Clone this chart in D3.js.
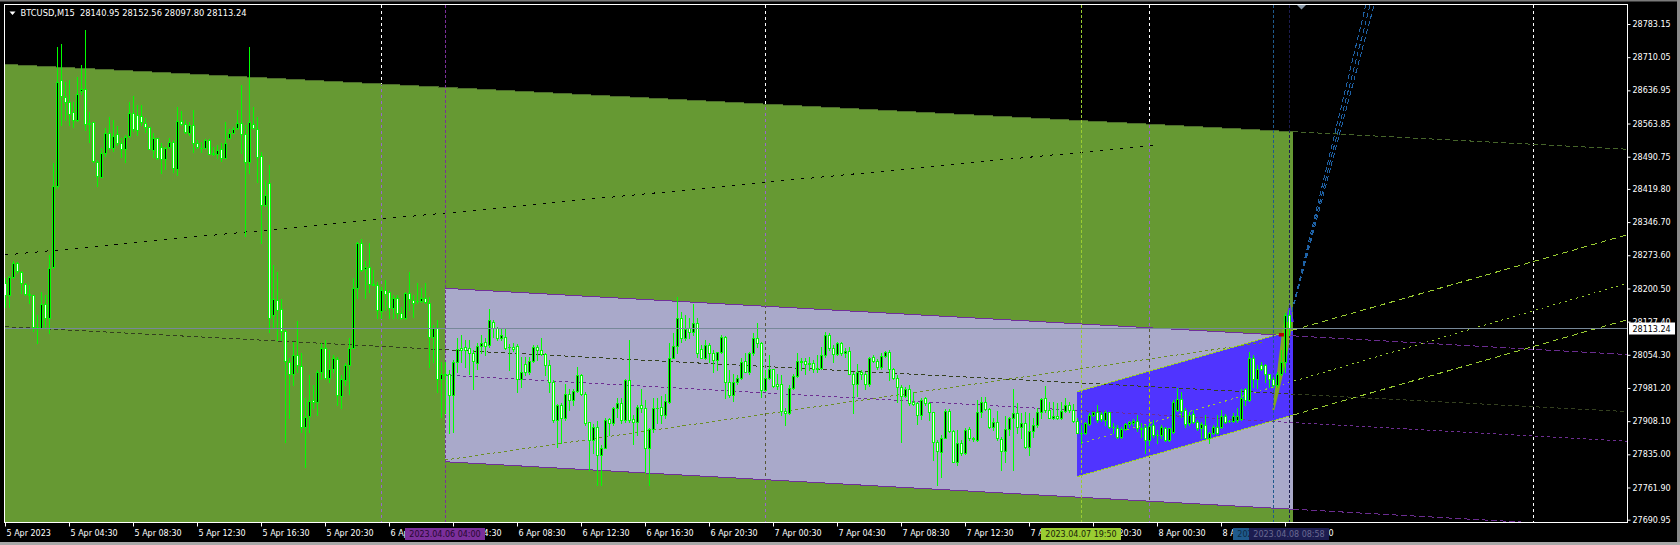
<!DOCTYPE html>
<html><head><meta charset="utf-8">
<script src="https://cdn.jsdelivr.net/npm/d3@7"></script>
<style>
html,body{margin:0;padding:0;background:#000;overflow:hidden;}
svg{display:block;}
text{font-family:"DejaVu Sans",sans-serif;}
</style></head><body>
<svg id="c" width="1680" height="545"></svg>
<script>
// ---------------- DATA ----------------
const symbol = "BTCUSD,M15";
const barStart = "2023-04-05 00:30";
const barMinutes = 15;
const opens = [28212,28186,28225,28256,28237,28210,28188,28185,28116,28114,
28166,28135,28248,28427,28660,28623,28611,28589,28572,28636,
28641,28564,28567,28480,28447,28500,28544,28509,28540,28522,
28508,28537,28588,28583,28581,28566,28556,28506,28531,28513,
28486,28513,28524,28464,28569,28562,28542,28561,28520,28511,
28510,28528,28498,28497,28508,28489,28533,28544,28553,28564,
28540,28480,28562,28552,28493,28384,28432,28141,28174,28155,
28107,28039,28013,28054,28030,27896,27920,27954,27951,28017,
28070,28004,28024,28045,27964,27999,28032,28070,28202,28300,
28243,28248,28210,28208,28151,28196,28193,28157,28180,28146,
28135,28190,28175,28173,28172,28180,28168,28094,28114,28001,
28013,28013,27966,28039,28070,28071,28070,28058,28036,28074,
28082,28076,28126,28114,28092,28094,28072,28072,28074,28001,
28033,28017,28041,28072,28064,28055,28032,27995,27911,27944,
27914,27969,27955,27975,28010,27969,27906,27867,27896,27833,
27850,27913,27903,27936,27947,27911,27999,27912,27907,27944,
27936,27848,27891,27938,27940,27922,27951,28048,28074,28136,
28091,28113,28104,28125,28067,28048,28076,28058,28043,28060,
28094,27994,27966,27994,28004,28041,28017,28058,28091,28080,
27977,28004,28023,27991,27989,27930,27925,27982,28008,28041,
28041,28033,28036,28026,28026,28054,28099,28070,28055,28080,
28058,28063,28013,27989,28017,28013,27989,28049,28041,28028,
28052,28061,28023,28004,27984,27964,27980,27950,27947,27922,
27958,27947,27928,27863,27841,27872,27930,27886,27819,27861,
27837,27891,27870,27867,27928,27950,27935,27896,27906,27869,
27842,27891,27916,27925,27896,27903,27852,27886,27900,27929,
27958,27933,27916,27920,27914,27930,27944,27933,27908,27883,
27881,27901,27922,27928,27923,27911,27928,27896,27894,27874,
27891,27901,27903,27908,27892,27896,27867,27900,27878,27878,
27892,27867,27885,27933,27957,27933,27903,27923,27907,27892,
27900,27872,27881,27896,27896,27920,27908,27908,27911,27913,
27979,27955,28047,28001,28032,28032,28011,28001,27988,28013,
28039,28140.95];
const highs = [28223,28228,28261,28258,28240,28212,28208,28186,28142,28193,
28186,28274,28476,28733,28739,28656,28660,28612,28667,28693,
28770,28590,28568,28484,28509,28553,28579,28572,28559,28531,
28539,28612,28625,28605,28605,28575,28557,28542,28533,28520,
28513,28531,28528,28601,28591,28572,28568,28594,28528,28524,
28529,28529,28513,28517,28520,28568,28552,28557,28594,28649,
28561,28733,28601,28579,28502,28439,28473,28252,28237,28177,
28109,28047,28083,28129,28058,27958,28010,27988,28021,28080,
28087,28065,28054,28050,28010,28036,28091,28223,28302,28309,
28260,28300,28241,28215,28204,28219,28197,28185,28186,28160,
28193,28236,28186,28212,28201,28212,28182,28120,28131,28039,
28038,28021,28043,28091,28098,28087,28087,28065,28080,28098,
28091,28155,28131,28116,28113,28113,28077,28080,28077,28050,
28050,28050,28076,28076,28091,28058,28043,27999,27946,27947,
27989,27979,27980,28028,28013,27973,27907,27901,27908,27856,
27914,27916,27940,27958,27958,28002,28087,27922,27944,27980,
27955,27892,27958,27960,27964,27969,28080,28102,28182,28149,
28142,28135,28166,28135,28076,28087,28080,28065,28061,28098,
28096,28021,28013,28010,28048,28058,28061,28102,28124,28083,
28021,28054,28024,28011,28010,27936,27988,28011,28058,28047,
28047,28050,28043,28054,28072,28104,28102,28076,28083,28083,
28069,28072,28017,28033,28021,28017,28050,28054,28045,28058,
28063,28065,28026,28010,27988,27984,27988,27973,27951,27958,
27962,27951,27929,27867,27878,27935,27935,27889,27889,27867,
27892,27896,27874,27955,27962,27962,27938,27914,27930,27874,
27920,27918,27980,27947,27925,27929,27925,27914,27936,27958,
27986,27951,27951,27947,27951,27958,27951,27945,27914,27900,
27907,27925,27929,27944,27929,27933,27929,27903,27900,27896,
27903,27908,27913,27922,27903,27900,27903,27911,27889,27900,
27896,27894,27955,27982,27973,27936,27929,27933,27911,27907,
27922,27885,27900,27922,27933,27923,27911,27925,27936,27980,
27982,28060,28054,28032,28039,28035,28013,28006,28017,28065,
28146,28152.56];
const lows = [28160,28160,28223,28234,28190,28185,28168,28107,28080,28113,
28116,28102,28246,28421,28561,28572,28561,28557,28570,28630,
28550,28524,28480,28427,28445,28493,28508,28503,28517,28491,
28480,28535,28547,28539,28561,28546,28507,28491,28486,28454,
28464,28511,28458,28450,28561,28544,28539,28502,28509,28502,
28509,28496,28495,28487,28481,28487,28531,28542,28552,28498,
28315,28454,28553,28436,28300,28383,28105,28116,28087,28087,
27863,27914,27988,28017,27885,27808,27885,27936,27922,28002,
28002,27995,28017,27944,27936,27988,27969,28069,28180,28240,
28180,28193,28207,28135,28135,28153,28136,28135,28135,28133,
28133,28153,28138,28168,28170,28168,28028,28039,27973,27918,
27925,27881,27885,28017,28039,28028,28013,27980,28024,28058,
28054,28072,28094,28087,28087,28067,28021,28063,27972,27984,
28010,28013,28039,28043,28054,28010,27972,27907,27852,27859,
27911,27933,27944,27973,27966,27900,27800,27837,27767,27767,
27848,27878,27900,27918,27903,27907,27906,27857,27878,27929,
27797,27767,27885,27903,27903,27914,27947,28047,28058,28083,
28087,28091,28098,28050,28047,28046,28038,28016,28021,28058,
27958,27962,27952,27991,28002,28016,28013,28054,28072,27962,
27975,28001,27984,27980,27922,27900,27923,27979,28006,28021,
28013,28021,28017,28017,28024,28050,28065,28039,28054,28054,
28050,28011,27927,27964,28002,27980,27986,28039,28024,28024,
28050,27999,28001,27951,27863,27962,27944,27944,27901,27913,
27944,27911,27822,27767,27786,27870,27885,27817,27812,27833,
27835,27867,27864,27864,27918,27933,27892,27889,27867,27800,
27819,27878,27800,27881,27870,27850,27833,27874,27896,27916,
27929,27914,27913,27913,27913,27929,27929,27907,27881,27859,
27879,27900,27920,27907,27908,27900,27894,27881,27870,27872,
27889,27896,27900,27886,27874,27837,27856,27874,27859,27870,
27864,27864,27881,27930,27918,27896,27900,27903,27889,27870,
27870,27861,27879,27879,27894,27903,27906,27907,27907,27911,
27944,27952,27984,27982,28021,27995,27984,27984,27984,28010,
28017,28097.80];
const closes = [28186,28225,28256,28240,28212,28188,28186,28116,28115,28166,
28135,28245,28427,28656,28625,28611,28584,28572,28630,28641,
28562,28563,28481,28449,28498,28544,28509,28537,28522,28508,
28535,28586,28552,28550,28567,28556,28508,28531,28487,28486,
28511,28524,28465,28569,28563,28546,28561,28520,28512,28510,
28528,28497,28497,28506,28487,28522,28544,28552,28564,28540,
28480,28568,28555,28491,28384,28406,28136,28177,28153,28107,
28041,28013,28054,28032,27896,27918,27952,27950,28017,28069,
28004,28024,28047,27966,28001,28032,28070,28202,28300,28241,
28248,28210,28209,28153,28197,28188,28157,28180,28146,28136,
28190,28177,28168,28172,28179,28170,28094,28114,28001,28013,
28010,27966,28039,28067,28065,28065,28058,28041,28074,28080,
28074,28131,28114,28092,28099,28070,28071,28067,28002,28017,
28017,28041,28072,28065,28055,28032,27995,27911,27944,27914,
27969,27955,27975,28010,27969,27903,27867,27896,27833,27850,
27911,27903,27936,27947,27911,27999,27911,27906,27940,27936,
27848,27891,27936,27936,27922,27952,28048,28074,28136,28091,
28111,28104,28125,28058,28048,28076,28058,28043,28060,28094,
27995,27966,27994,28004,28038,28017,28058,28091,28080,27977,
28004,28023,27986,27986,27930,27925,27982,28008,28041,28038,
28033,28036,28023,28023,28054,28099,28070,28055,28080,28058,
28063,28013,27989,28017,28013,27989,28048,28041,28028,28052,
28061,28023,28004,27984,27964,27980,27947,27946,27922,27955,
27947,27928,27863,27842,27872,27930,27886,27819,27861,27837,
27889,27870,27869,27928,27950,27935,27896,27906,27870,27842,
27891,27916,27925,27896,27903,27852,27886,27900,27929,27957,
27933,27916,27920,27914,27930,27944,27933,27908,27883,27883,
27903,27922,27928,27911,27913,27929,27896,27895,27874,27891,
27901,27906,27908,27892,27891,27867,27898,27878,27877,27896,
27867,27892,27951,27957,27930,27901,27922,27907,27892,27901,
27872,27881,27896,27881,27920,27906,27908,27920,27920,27960,
27955,28047,28001,28024,28024,28013,28002,27988,28013,28039,
28141,28113.24];

const priceTicks = [28783.15,28710.05,28636.95,28563.85,28490.75,28419.80,28346.70,28273.60,
  28200.50,28127.40,28054.30,27981.20,27908.10,27835.00,27761.90,27690.95];
const timeTicks = ["2023-04-05 00:30","2023-04-05 04:30","2023-04-05 08:30","2023-04-05 12:30","2023-04-05 16:30","2023-04-05 20:30",
  "2023-04-06 00:30","2023-04-06 04:30","2023-04-06 08:30","2023-04-06 12:30","2023-04-06 16:30","2023-04-06 20:30",
  "2023-04-07 00:30","2023-04-07 04:30","2023-04-07 08:30","2023-04-07 12:30","2023-04-07 16:30","2023-04-07 20:30",
  "2023-04-08 00:30","2023-04-08 04:30","2023-04-08 08:30"];
const timeTickLabels = ["5 Apr 2023","5 Apr 04:30","5 Apr 08:30","5 Apr 12:30","5 Apr 16:30","5 Apr 20:30",
  "6 Apr 00:30","6 Apr 04:30","6 Apr 08:30","6 Apr 12:30","6 Apr 16:30","6 Apr 20:30",
  "7 Apr 00:30","7 Apr 04:30","7 Apr 08:30","7 Apr 12:30","7 Apr 16:30","7 Apr 20:30",
  "8 Apr 00:30","8 Apr 04:30","8 Apr 08:30"];
const bidPrice = 28113.24;
const gridTimes = ["2023-04-06 00:00","2023-04-07 00:00","2023-04-08 00:00","2023-04-09 00:00"];

// drawn objects (time, price)
const greenChannel = {from:["2023-04-05 00:30",28694.3], to:["2023-04-08 09:00",28545.8], width:1156.3};
const lavenderChannel = {from:["2023-04-06 04:00",28200.8], to:["2023-04-08 09:00",28096.1], width:382.1};
const blueChannel = {from:["2023-04-07 19:30",27972.9], to:["2023-04-08 09:00",28108.7], width:187.3};
const blueMidLine = {from:["2023-04-07 19:45",27859.2], to:["2023-04-08 09:00",27996.0]};
const oliveTrend = {from:["2023-04-06 04:00",27822.4], to:["2023-04-08 07:07",28081.1]};
const blackTrend = {from:["2023-04-05 00:30",28274.1], to:["2023-04-08 00:30",28516.5]};
const fanLines = [
  {from:["2023-04-08 08:48",28130.9], to:["2023-04-08 13:33",28825]},
  {from:["2023-04-08 08:48",28130.9], to:["2023-04-08 13:49",28825]},
  {from:["2023-04-08 08:48",28130.9], to:["2023-04-08 14:04",28825]}];
const wedge = [["2023-04-08 07:43",27932.6],["2023-04-08 08:22",28119.9],["2023-04-08 08:48",28157.4],
  ["2023-04-08 09:00",28135.3],["2023-04-08 08:37",28047.2],["2023-04-08 08:07",27972.3],["2023-04-08 07:50",27932.6]];
const tipTriangle = [["2023-04-08 08:30",28126.5],["2023-04-08 08:48",28168.4],["2023-04-08 09:03",28126.5]];
const redMark = [["2023-04-08 08:07",28102.3],["2023-04-08 08:30",28102.3],["2023-04-08 08:30",28094.6],["2023-04-08 08:07",28094.6]];
const vTimes = ["2023-04-06 04:00","2023-04-07 19:50","2023-04-08 07:45","2023-04-08 08:58"];
const vLabels = ["2023.04.06 04:00","2023.04.07 19:50","2023.04.08 07:45","2023.04.08 08:58"];

// ---------------- STYLE ----------------
const vColors = ["#7b2f9b","#9acd32","#1f5a8c","#1c1c50"];
const vTextColors = ["#26082f","#17220a","#0d2a44","#6a6a92"];
const FONT = "DejaVu Sans";

// ---------------- DRAW ----------------
const svg = d3.select("#c");
const Lp = 5, Rp = 1627, Tp = 5, Bp = 522;
const parse = d3.utcParse("%Y-%m-%d %H:%M");
const t0 = parse(barStart);
const msBar = barMinutes*60000;
const times = opens.map((_,i)=> new Date(t0.getTime()+i*msBar));
const x = d3.scaleUtc().domain([times[0], times[times.length-1]]).range([5, 1289]);
const y = d3.scaleLinear().domain([27690.95, 28783.15]).range([519.7, 24]);
const barX = s => { const d = parse(s); return x(new Date(t0.getTime()+Math.floor((d-t0)/msBar)*msBar)); };
const pt = a => [x(parse(a[0])), y(a[1])];

svg.append("rect").attr("width",1680).attr("height",545).attr("fill","#000");
// window chrome
svg.append("rect").attr("x",0).attr("y",0).attr("width",1680).attr("height",1.5).attr("fill","#7a7a7a");
svg.append("rect").attr("x",1677).attr("y",0).attr("width",3).attr("height",545).attr("fill","#8a8a8a");
svg.append("rect").attr("x",0).attr("y",542).attr("width",1680).attr("height",3).attr("fill","#a8a8a8");

const defs = svg.append("defs");
defs.append("clipPath").attr("id","clip").append("rect").attr("x",Lp).attr("y",Tp).attr("width",Rp-Lp).attr("height",Bp-Tp);
const g = svg.append("g").attr("clip-path","url(#clip)");
g.append("rect").attr("x",Lp).attr("y",Tp).attr("width",Rp-Lp).attr("height",Bp-Tp).attr("fill","#000");

function geom(c){
  const [x1,y1] = pt(c.from), [x2,y2] = pt(c.to);
  const w = y(c.from[1]-c.width) - y1;
  const s = (y2-y1)/(x2-x1);
  return {x1,y1,x2,y2,w,s};
}
const line = d3.line();
function seg(x1,y1,x2,y2,color,dash){
  g.append("path").attr("d",line([[x1,y1],[x2,y2]])).attr("fill","none").attr("stroke",color)
   .attr("stroke-width",1).attr("stroke-dasharray",dash||null).attr("shape-rendering","crispEdges");
}
function fillChan(c,color){
  const k = geom(c);
  g.append("path").attr("d",line([[k.x1,k.y1],[k.x2,k.y2],[k.x2,k.y2+k.w],[k.x1,k.y1+k.w]])+"Z")
   .attr("fill",color).attr("shape-rendering","crispEdges");
  return k;
}
const rayY = (k,off,xr)=> k.y1+off+k.s*(xr-k.x1);

const gk = fillChan(greenChannel,"#669933");
const lk = fillChan(lavenderChannel,"#a9a9ca");
const bk = fillChan(blueChannel,"#5034ff");

// grid (inverted)
gridTimes.forEach(t=>{
  const gx = Math.round(barX(t))+0.5;
  g.append("line").attr("x1",gx).attr("x2",gx).attr("y1",Tp).attr("y2",Bp)
   .attr("stroke","#fff").attr("stroke-dasharray","3,3").style("mix-blend-mode","difference");
});

// green channel lines
seg(gk.x1,gk.y1,gk.x2,gk.y2,"#4d6d2b");
seg(gk.x2,gk.y2,Rp,rayY(gk,0,Rp),"#46652a","5,3");
seg(gk.x1,gk.y1+gk.w/2,Rp,rayY(gk,gk.w/2,Rp),"#34401f","4,3");
// lavender channel lines
[0,lk.w].forEach(o=>{
  seg(lk.x1,lk.y1+o,lk.x2,lk.y2+o,"#70309a");
  seg(lk.x2,lk.y2+o,Rp,rayY(lk,o,Rp),"#6a2c90","6,3");
});
seg(lk.x1,lk.y1+lk.w/2,Rp,rayY(lk,lk.w/2,Rp),"#6e2e92","3,3");
// black dotted trend
{ const [a1,b1]=pt(blackTrend.from),[a2,b2]=pt(blackTrend.to); seg(a1,b1,a2,b2,"#000","3,7"); }
// olive trend
{ const [a1,b1]=pt(oliveTrend.from),[a2,b2]=pt(oliveTrend.to); seg(a1,b1,a2,b2,"#6b8e23","3,3"); }
// blue channel lines
[0,bk.w].forEach(o=>{
  seg(bk.x1,bk.y1+o,bk.x2,bk.y2+o,"#9acd32");
  seg(bk.x2,bk.y2+o,Rp,rayY(bk,o,Rp),"#9acd32","6,4");
});
{ const [a1,b1]=pt(blueMidLine.from),[a2,b2]=pt(blueMidLine.to); const s=(b2-b1)/(a2-a1);
  seg(a1,b1,Rp,b1+s*(Rp-a1),"#9acd32","2,4"); }
// fan
fanLines.forEach(f=>{ const [a1,b1]=pt(f.from),[a2,b2]=pt(f.to); seg(a1,b1,a2,b2,"#1f62a6","5,3"); });
g.append("path").attr("d",line(wedge.map(pt))+"Z").attr("fill","#80a81e");
g.append("path").attr("d",line(tipTriangle.map(pt))+"Z").attr("fill","#5a36ff");
g.append("path").attr("d",line(redMark.map(pt))+"Z").attr("fill","#b80000");

// vertical lines
vTimes.forEach((t,i)=>{
  const vx = Math.round(barX(t))+0.5;
  g.append("line").attr("x1",vx).attr("x2",vx).attr("y1",Tp).attr("y2",Bp)
   .attr("stroke",vColors[i]).attr("stroke-dasharray","3,2");
});

// candles
const cg = g.append("g").attr("shape-rendering","crispEdges");
times.forEach((t,i)=>{
  const cx = Math.round(x(t));
  const yh = Math.round(y(highs[i])), yl = Math.round(y(lows[i]));
  const yo = Math.round(y(opens[i])), yc = Math.round(y(closes[i]));
  cg.append("rect").attr("x",cx).attr("y",yh).attr("width",1).attr("height",Math.max(1,yl-yh+1)).attr("fill","#00ff00");
  const top = Math.min(yo,yc), bot = Math.max(yo,yc);
  const h = Math.max(1,bot-top+1);
  cg.append("rect").attr("x",cx-1).attr("y",top).attr("width",3).attr("height",h).attr("fill","#00ff00");
  if (h>2) cg.append("rect").attr("x",cx).attr("y",top+1).attr("width",1).attr("height",h-2)
      .attr("fill", closes[i]>=opens[i] ? "#000" : "#fff");
});

// bid line
const yb = Math.round(y(bidPrice))+0.5;
g.append("line").attr("x1",Lp).attr("x2",Rp).attr("y1",yb).attr("y2",yb).attr("stroke","#778899");

// frame
svg.append("rect").attr("x",4.5).attr("y",4.5).attr("width",Rp-4).attr("height",Bp-4)
  .attr("fill","none").attr("stroke","#fff").attr("shape-rendering","crispEdges");

// price axis
const ay = svg.append("g").attr("transform",`translate(${Rp+0.5},0)`)
  .call(d3.axisRight(y).tickValues(priceTicks).tickFormat(d3.format(".2f")).tickSize(3).tickPadding(2));
ay.select(".domain").remove();
ay.selectAll("line").attr("stroke","#fff");
ay.selectAll("text").attr("fill","#fff").attr("font-family",FONT).attr("font-size",8);
ay.attr("font-family",FONT);

// bid label
svg.append("rect").attr("x",1629).attr("y",yb-6).attr("width",46).attr("height",12).attr("fill","#fff");
svg.append("text").attr("x",1632.5).attr("y",yb+3).attr("fill","#000").attr("font-size",8).text(d3.format(".2f")(bidPrice));

// time axis
const tickDates = timeTicks.map(parse);
const ax = svg.append("g").attr("transform",`translate(0,${Bp+0.5})`)
  .call(d3.axisBottom(x).tickValues(tickDates).tickFormat((d,i)=>timeTickLabels[i]).tickSize(4).tickPadding(2));
ax.select(".domain").remove();
ax.selectAll("line").attr("stroke","#fff");
ax.selectAll("text").attr("fill","#fff").attr("font-family",FONT).attr("font-size",8)
  .attr("text-anchor","start").attr("x",1).attr("dy",null).attr("y",13.5);
ax.attr("font-family",FONT);

// vertical-line labels
vTimes.forEach((t,i)=>{
  const vx = Math.round(barX(t));
  svg.append("rect").attr("x",vx-40).attr("y",528).attr("width",80).attr("height",12).attr("fill",vColors[i]);
  svg.append("text").attr("x",vx).attr("y",537).attr("text-anchor","middle").attr("fill",vTextColors[i])
    .attr("font-size",8).text(vLabels[i]);
});

// title
const n = opens.length-1;
const f2 = d3.format(".2f");
svg.append("path").attr("d","M9.5,11.5L15.5,11.5L12.5,15Z").attr("fill","#fff");
svg.append("text").attr("x",20.5).attr("y",16).attr("fill","#fff").attr("font-size",8.3)
  .style("white-space","pre").attr("textLength",226).attr("lengthAdjust","spacingAndGlyphs")
  .text(`${symbol}  ${f2(opens[n])} ${f2(highs[n])} ${f2(lows[n])} ${f2(closes[n])}`);
// chart shift marker
svg.append("path").attr("d","M1297,5L1306,5L1301.5,9.5Z").attr("fill","#8796a5");
</script>
</body></html>
